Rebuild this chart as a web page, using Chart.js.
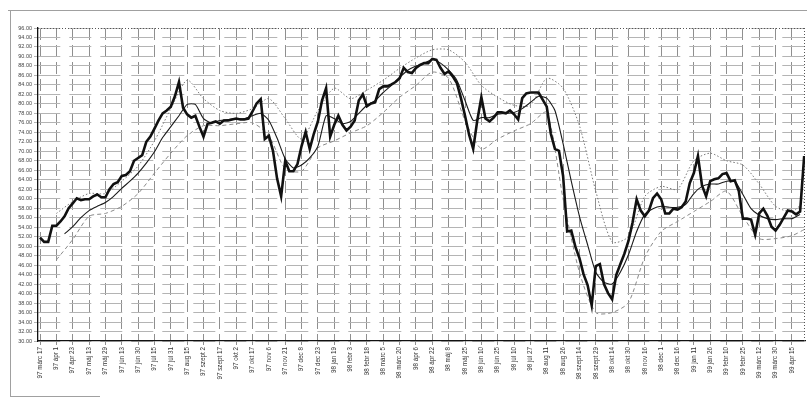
<!DOCTYPE html>
<html>
<head>
<meta charset="utf-8">
<script src="https://cdn.jsdelivr.net/npm/chart.js@4.4.0/dist/chart.umd.min.js"></script>
<style>
  html, body { margin: 0; padding: 0; background: #fff; }
</style>
</head>
<body>
<canvas id="buxChart" width="807" height="399"></canvas>
<script>
// dátum címkék (minden 4. ponthoz egy)
const dateLabels = [
  '97 márc 17', '97 ápr 1', '97 ápr 23', '97 máj 13', '97 máj 29', '97 jún 13', '97 jún 30',
  '97 júl 15', '97 júl 31', '97 aug 15', '97 szept 2', '97 szept 17', '97 okt 2', '97 okt 17',
  '97 nov 6', '97 nov 21', '97 dec 8', '97 dec 23', '98 jan 19', '98 febr 3', '98 febr 18',
  '98 márc 5', '98 márc 20', '98 ápr 6', '98 ápr 22', '98 máj 8', '98 máj 25', '98 jún 10',
  '98 jún 25', '98 júl 10', '98 júl 27', '98 aug 11', '98 aug 26', '98 szept 14', '98 szept 29',
  '98 okt 14', '98 okt 30', '98 nov 16', '98 dec 1', '98 dec 16', '99 jan 11', '99 jan 26',
  '99 febr 10', '99 febr 25', '99 márc 12', '99 márc 30', '99 ápr 15'
];

// árfolyam (vastag vonal)
const price = [
  51.8, 50.9, 50.9, 54.3, 54.3, 55.2, 56.3, 58.0, 59.0, 60.1,
  59.7, 59.9, 59.9, 60.5, 60.9, 60.3, 60.3, 62.0, 63.1, 63.5,
  64.8, 65.0, 65.8, 68.0, 68.6, 69.2, 72.0, 73.1, 74.8, 76.5,
  78.0, 78.6, 79.4, 81.6, 84.6, 79.2, 77.8, 77.1, 77.5, 75.2,
  73.1, 75.8, 76.0, 76.3, 75.8, 76.5, 76.5, 76.7, 76.9, 76.7,
  76.7, 76.9, 78.4, 80.1, 81.0, 72.6, 73.3, 70.1, 64.3, 60.5,
  68.0, 65.8, 65.8, 67.3, 71.1, 74.1, 70.5, 73.7, 76.3, 80.7,
  83.3, 73.1, 75.6, 77.5, 75.6, 74.4, 75.2, 76.5, 80.7, 82.0,
  79.5, 80.1, 80.3, 83.1, 83.7, 83.7, 84.1, 84.6, 85.4, 87.6,
  86.7, 86.5, 87.6, 88.2, 88.6, 88.6, 89.5, 89.3, 87.6, 86.3,
  86.9, 85.8, 84.4, 81.2, 77.5, 73.5, 70.5, 76.5, 81.4, 76.9,
  76.3, 77.1, 78.2, 78.2, 78.0, 78.6, 77.8, 76.7, 81.2, 82.2,
  82.4, 82.4, 82.4, 80.9, 79.4, 73.7, 70.5, 70.1, 64.8, 53.1,
  53.3, 49.9, 47.5, 44.1, 41.8, 37.5, 45.8, 46.2, 42.0, 40.1,
  38.8, 43.9, 46.2, 48.4, 51.1, 55.0, 59.9, 57.5, 56.3, 57.5,
  60.1, 61.1, 59.9, 56.9, 56.9, 57.9, 57.7, 58.2, 59.4, 63.3,
  65.4, 69.0, 62.8, 60.5, 63.7, 64.1, 64.3, 65.2, 65.4, 63.7,
  63.9, 61.6, 55.8, 55.8, 55.6, 52.4, 56.9, 57.9, 56.4, 54.1,
  53.3, 54.5, 56.0, 57.5, 57.3, 56.7, 57.3, 69.0
];

// rövid mozgóátlag (vékony vonal), a 6. ponttól minden 2. pontra
const maShort = [
  52.6, 54.1, 56.0, 57.5, 58.4, 59.2, 60.5, 62.2, 63.7, 65.4,
  67.5, 69.9, 72.9, 75.2, 77.5, 79.9, 79.9, 76.9, 76.0, 76.5,
  76.7, 76.9, 76.9, 77.5, 78.0, 76.5, 72.8, 68.4, 66.5, 67.1,
  68.6, 71.1, 77.5, 76.9, 75.8, 76.3, 78.0, 79.7, 80.7, 82.4,
  83.9, 85.6, 87.1, 88.0, 88.6, 89.3, 88.6, 87.1, 85.0, 80.7,
  76.5, 77.1, 77.1, 77.8, 78.0, 78.2, 79.0, 80.3, 81.6, 81.2,
  78.6, 71.6, 63.7, 56.3, 50.3, 44.5, 42.4, 42.0, 44.5, 48.2,
  53.1, 56.7, 57.9, 58.4, 58.2, 58.2, 58.8, 61.1, 62.6, 63.1,
  63.1, 63.7, 63.7, 60.9, 57.9, 56.5, 55.8, 55.6, 55.8, 55.8,
  56.7
];

// felső sáv (pontozott), a 4. ponttól minden 4. pontra
const bandUpper = [
  56.9, 59.4, 61.1, 61.1, 63.7, 66.9, 72.2, 79.0, 85.0, 81.1,
  78.6, 78.0, 79.0, 81.1, 76.9, 72.6, 78.6, 83.3, 81.1, 82.9,
  85.0, 87.5, 89.7, 91.4, 91.4, 88.8, 83.9, 81.4, 79.7, 79.7,
  85.4, 83.3, 75.4, 61.6, 50.9, 52.0, 60.5, 62.6, 62.0, 68.0,
  69.6, 68.0, 67.1, 63.1, 58.4, 57.3, 59.4
];

// alsó sáv (szaggatott)
const bandLower = [
  47.1, 51.4, 56.3, 56.9, 58.4, 61.1, 65.4, 69.6, 73.3, 75.4,
  75.4, 75.8, 76.0, 73.3, 66.3, 65.8, 70.7, 72.2, 73.9, 75.4,
  78.2, 81.4, 83.9, 86.7, 85.4, 76.5, 70.5, 72.6, 74.3, 75.8,
  78.2, 60.0, 44.5, 36.0, 36.0, 38.1, 47.7, 53.1, 55.2, 57.3,
  59.4, 61.6, 56.3, 51.6, 51.6, 52.2, 53.5
];

// függőleges tengely
const yMin = 30, yMax = 96, yStep = 2;

const lastIdx = price.length - 1;
function toPoints(values, first, step) {
  return values.map((v, j) => ({ x: Math.min(first + j * step, lastIdx), y: v }));
}

// keret a kép körül, pontozott jobb és felső szél
const framePlugin = {
  id: 'frame',
  beforeDraw(chart) {
    const c = chart.ctx;
    c.save();
    c.fillStyle = '#fff';
    c.fillRect(0, 0, chart.width, chart.height);
    c.strokeStyle = '#a0a0a0';
    c.lineWidth = 1;
    c.beginPath();
    c.moveTo(8, 10.5); c.lineTo(807, 10.5);
    c.moveTo(10.5, 10); c.lineTo(10.5, 397);
    c.moveTo(10, 396.5); c.lineTo(100, 396.5);
    c.stroke();
    c.restore();
  },
  beforeDatasetsDraw(chart) {
    const a = chart.chartArea, c = chart.ctx;
    c.save();
    c.strokeStyle = '#555';
    c.lineWidth = 1;
    c.setLineDash([1, 2]);
    c.beginPath();
    c.moveTo(a.right - 0.5, a.top); c.lineTo(a.right - 0.5, a.bottom);
    c.moveTo(a.left, a.top + 0.5); c.lineTo(a.right, a.top + 0.5);
    c.stroke();
    c.restore();
  }
};

const ctx = document.getElementById('buxChart').getContext('2d');
const chart = new Chart(ctx, {
  type: 'line',
  data: {
    datasets: [
      {
        label: 'árfolyam',
        data: toPoints(price, 0, 1),
        borderColor: '#111',
        borderWidth: 2.6,
        pointRadius: 0,
        tension: 0,
        order: 0
      },
      {
        label: 'mozgóátlag',
        data: toPoints(maShort, 6, 2),
        borderColor: '#1a1a1a',
        borderWidth: 1.1,
        pointRadius: 0,
        tension: 0.2,
        order: 1
      },
      {
        label: 'felső',
        data: toPoints(bandUpper, 4, 4),
        borderColor: '#7a7a7a',
        borderWidth: 1,
        borderDash: [1.5, 2],
        pointRadius: 0,
        tension: 0.25,
        order: 2
      },
      {
        label: 'alsó',
        data: toPoints(bandLower, 4, 4),
        borderColor: '#8a8a8a',
        borderWidth: 1,
        borderDash: [4, 3],
        pointRadius: 0,
        tension: 0.25,
        order: 3
      }
    ]
  },
  options: {
    responsive: false,
    animation: false,
    devicePixelRatio: 1,
    layout: { padding: { top: 28, right: 2, left: 0, bottom: 4 } },
    plugins: { legend: { display: false }, tooltip: { enabled: false } },
    scales: {
      x: {
        type: 'linear',
        min: -0.5,
        max: 187.2,
        afterBuildTicks: s => { s.ticks = dateLabels.map((_, k) => ({ value: k * 4 })); },
        afterFit: s => { s.height = 54; },
        ticks: {
          autoSkip: false,
          maxRotation: 90,
          minRotation: 90,
          padding: 2,
          color: '#333',
          font: { family: 'Liberation Sans', size: 6.3 },
          callback: v => dateLabels[Math.round(v / 4)] || ''
        },
        grid: { color: '#8f8f8f', lineWidth: 1, tickLength: 4 },
        border: { color: '#111', width: 1.3, dash: [12, 5] }
      },
      y: {
        min: yMin,
        max: yMax,
        afterFit: s => { s.width = 38; },
        ticks: {
          stepSize: yStep,
          autoSkip: false,
          padding: 2,
          color: '#444',
          font: { family: 'Liberation Sans', size: 5.5 },
          callback: v => v.toFixed(2)
        },
        grid: { color: '#b4b4b4', lineWidth: 1, tickLength: 4 },
        border: { color: '#111', width: 1.3, dash: [22, 9] }
      }
    }
  },
  plugins: [framePlugin]
});
</script>
</body>
</html>
